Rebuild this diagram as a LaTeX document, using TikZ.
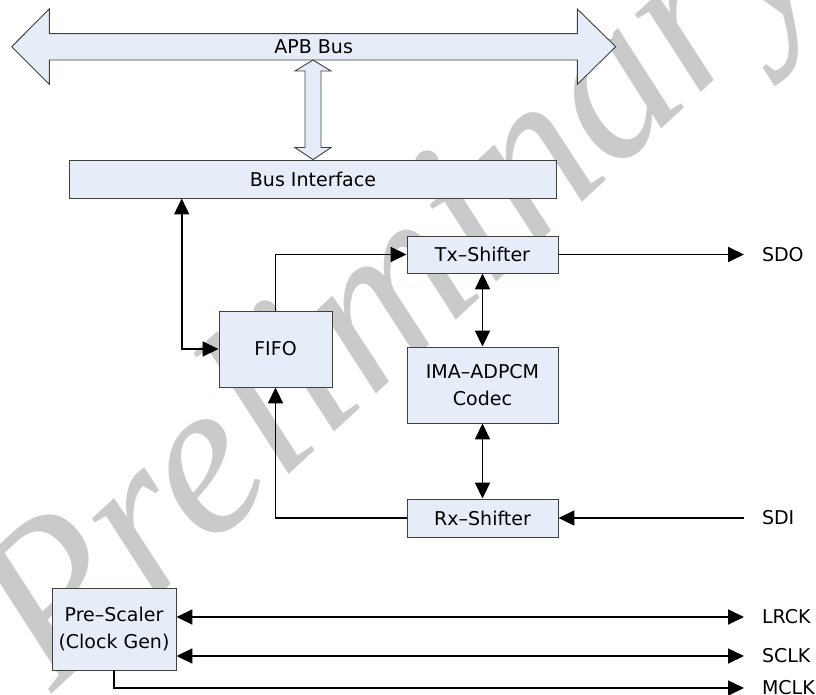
\documentclass[tikz,border=0pt]{standalone}
\usepackage{fontspec}
\setmainfont{DejaVu Sans}
\newfontfamily\wmfont{Liberation Serif}
\usetikzlibrary{arrows.meta,positioning,calc}
\definecolor{boxfill}{HTML}{E6EDF8}
\definecolor{boxline}{HTML}{404040}
\definecolor{wmark}{HTML}{CACACA}

\begin{document}
\begin{tikzpicture}[x=1pt,y=-1pt,
  font=\fontsize{19}{27}\selectfont,
  blk/.style={draw=boxline, fill=boxfill, line width=0.9pt, inner sep=0pt, align=center},
  sig/.style={anchor=west, inner sep=0pt, outer xsep=18pt},
  link/.style={line width=1.8pt, -{Triangle[length=16pt,width=15pt]}},
  both/.style={line width=1.8pt, {Triangle[length=16pt,width=15pt]}-{Triangle[length=16pt,width=15pt]}},
  hollow/.style={draw=boxline, fill=boxfill, line width=0.9pt}]
  % Page
  \clip (0,0) rectangle (816,695);

  % Watermark
  \node[text=wmark, font=\wmfont\fontsize{221}{221}\selectfont\itshape, rotate=42.8] (wm) at (405,295) {Preliminary};

  % APB bus
  \draw[hollow] (11.7,46.7) -- (49.3,9) -- (49.3,33.7) -- (577.3,33.7) -- (577.3,9)
    -- (615.7,46.7) -- (577.3,84.4) -- (577.3,60) -- (49.3,60) -- (49.3,84.4) -- cycle;
  \node (apb) at (313.7,46.7) {APB Bus};
  \coordinate (apbfoot) at (313,60);

  % Blocks
  \node[blk, minimum width=487pt, minimum height=38pt] (bif) at (313,179) {Bus Interface};
  \node[blk, minimum width=113pt, minimum height=76pt] (fifo) at (275.5,349) {FIFO};
  \node[blk, minimum width=151pt, minimum height=37pt] (tx) at (482.5,254.5) {Tx–Shifter};
  \node[blk, minimum width=151pt, minimum height=76pt] (codec) at (482.5,385) {IMA–ADPCM\\Codec};
  \node[blk, minimum width=151pt, minimum height=38pt] (rx) at (482.5,518) {Rx–Shifter};
  \node[blk, minimum width=124pt, minimum height=82pt] (pre) at (114,629) {Pre–Scaler\\(Clock Gen)};

  % Pins
  \node[sig] (sdo) at (744,254.5) {SDO};
  \node[sig] (sdi) at (744,518) {SDI};
  \node[sig] (lrck) at (744,617) {LRCK};
  \node[sig] (sclk) at (744,656) {SCLK};
  \node[sig] (mclk) at (744,688) {MCLK};

  % Bus to interface
  \draw[hollow] (apbfoot) -- ++(18,11) -- ++(-10,0) -- ($(bif.north)+(8,-12)$) -- ++(10,0)
    -- (bif.north) -- ++(-18,-12) -- ++(10,0) -- ($(apbfoot)+(-8,11)$) -- ++(-10,0) -- cycle;

  % Data path
  \draw[both] ([xshift=-131.3pt]bif.south) |- (fifo.west);
  \draw[link] (fifo.north) |- (tx.west);
  \draw[link] (tx.east) -- (sdo);
  \draw[both] (tx.south) -- (codec.north);
  \draw[both] (codec.south) -- (rx.north);
  \draw[link] (sdi) -- (rx.east);
  \draw[link] (rx.west) -| (fifo.south);

  % Clocks
  \draw[both] (pre.east |- lrck) -- (lrck);
  \draw[both] (pre.east |- sclk) -- (sclk);
  \draw[link] (pre.south) |- (mclk);
\end{tikzpicture}
\end{document}
